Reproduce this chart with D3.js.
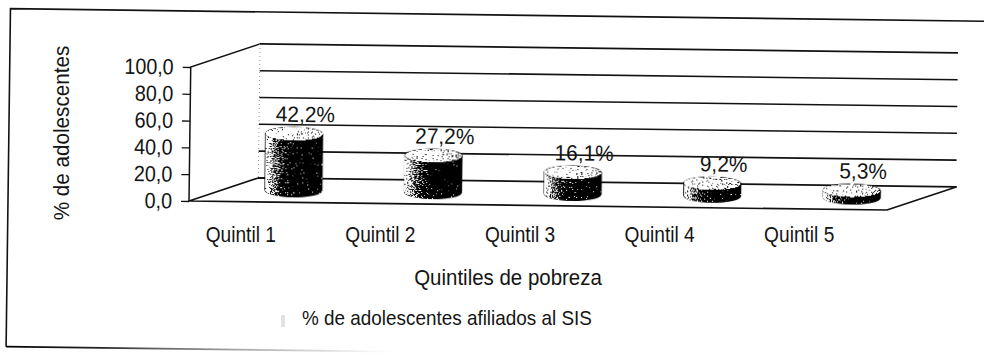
<!DOCTYPE html>
<html>
<head>
<meta charset="utf-8">
<script src="https://cdn.jsdelivr.net/npm/d3@7"></script>
<style>
  html, body { margin: 0; padding: 0; background: #fff; }
  svg { display: block; }
  text { font-family: "Liberation Sans", Arial, sans-serif; fill: #141414; }
</style>
</head>
<body>
<script>
// Afiliación al SIS por quintil de pobreza
const categories = ["Quintil 1", "Quintil 2", "Quintil 3", "Quintil 4", "Quintil 5"];
const values = [42.2, 27.2, 16.1, 9.2, 5.3];
const yTicks = [0, 20, 40, 60, 80, 100];
const seriesName = "% de adolescentes afiliados al SIS";
const xTitle = "Quintiles de pobreza";
const yTitle = "% de adolescentes";

const W = 984, H = 358;
const esLocale = d3.formatLocale({ decimal: ",", thousands: ".", grouping: [3], currency: ["", ""] });
const fmtTick = esLocale.format(".1f");
const fmtPct = v => esLocale.format(".1f")(v) + "%";

const svg = d3.select("body").append("svg")
  .attr("width", W).attr("height", H)
  .attr("viewBox", `0 0 ${W} ${H}`);

// front plane of the 3D box, depth offset of the back wall
const left = 189, right = 887;
const depth = { dx: 69, dy: -24 };
const x = d3.scaleBand().domain(categories).range([left, right]);
const y = d3.scaleLinear().domain([0, 100]).range([201, 67]);
const tilt = 0.74;

const defs = svg.append("defs");

// stippled shading for the cylinders
const grain = defs.append("filter").attr("id", "grain")
  .attr("color-interpolation-filters", "sRGB")
  .attr("x", "-5%").attr("y", "-5%").attr("width", "110%").attr("height", "110%");
grain.append("feTurbulence").attr("type", "fractalNoise").attr("baseFrequency", 0.8)
  .attr("numOctaves", 1).attr("seed", 7).attr("result", "noise");
grain.append("feColorMatrix").attr("in", "noise").attr("type", "matrix")
  .attr("values", "2.2 0 0 0 -0.6  2.2 0 0 0 -0.6  2.2 0 0 0 -0.6  0 0 0 0 1")
  .attr("result", "n2");
grain.append("feComposite").attr("in", "SourceGraphic").attr("in2", "n2")
  .attr("operator", "arithmetic").attr("k1", 0).attr("k2", 4.5).attr("k3", -4.5).attr("k4", 0.4)
  .attr("result", "d");
grain.append("feColorMatrix").attr("in", "d").attr("type", "matrix")
  .attr("values", "1 0 0 0 0  0 1 0 0 0  0 0 1 0 0  0 0 0 0 1").attr("result", "d2");
grain.append("feComposite").attr("in", "d2").attr("in2", "SourceAlpha").attr("operator", "in");

const bodyGrad = defs.append("linearGradient").attr("id", "body")
  .attr("x1", 0).attr("x2", 1).attr("y1", 0).attr("y2", 0);
[[0, "#dadada"], [0.12, "#909090"], [0.3, "#303030"], [0.5, "#000"], [1, "#000"]]
  .forEach(([o, c]) => bodyGrad.append("stop").attr("offset", o).attr("stop-color", c));

const topGrad = defs.append("linearGradient").attr("id", "cap")
  .attr("x1", 0).attr("x2", 1).attr("y1", 0).attr("y2", 0);
[[0, "#e2e2e2"], [0.5, "#c8c8c8"], [1, "#acacac"]]
  .forEach(([o, c]) => topGrad.append("stop").attr("offset", o).attr("stop-color", c));

const fade = defs.append("linearGradient").attr("id", "fade")
  .attr("gradientUnits", "userSpaceOnUse").attr("x1", 0).attr("x2", 400).attr("y1", 0).attr("y2", 0);
[[0, "#000", 1], [0.25, "#222", 1], [0.8, "#999", 0.4], [1, "#ccc", 0]]
  .forEach(([o, c, a]) => fade.append("stop").attr("offset", o).attr("stop-color", c).attr("stop-opacity", a));

// everything in the drawing area is slightly tilted
const plot = svg.append("g").attr("transform", `rotate(${tilt}, ${left}, ${y(0)})`);

// outer border
plot.append("path")
  .attr("d", `M1000,11 L8,11 L8,349`)
  .attr("fill", "none").attr("stroke", "#111").attr("stroke-width", 1.6);
plot.append("line")
  .attr("x1", 8).attr("x2", 1000).attr("y1", 349).attr("y2", 349)
  .attr("stroke", "url(#fade)").attr("stroke-width", 1.6);

const y0 = y(0), y100 = y(100);
const bx = left + depth.dx, by = depth.dy;

// floor
plot.append("path")
  .attr("d", `M${left},${y0} L${right},${y0} L${right + depth.dx},${y0 + by} L${bx},${y0 + by} Z`)
  .attr("fill", "#fff").attr("stroke", "#111").attr("stroke-width", 1.6).attr("stroke-linejoin", "round");

// side wall edges
plot.append("path")
  .attr("d", `M${left},${y0} L${left},${y100} L${bx},${y100 + by}`)
  .attr("fill", "none").attr("stroke", "#111").attr("stroke-width", 1.5);
plot.append("line")
  .attr("x1", bx).attr("x2", bx).attr("y1", y100 + by).attr("y2", y0 + by)
  .attr("stroke", "#999").attr("stroke-width", 1).attr("stroke-dasharray", "1 3");

// back wall gridlines
plot.selectAll("line.grid").data(yTicks.filter(t => t > 0)).join("line")
  .attr("class", "grid")
  .attr("x1", bx).attr("x2", right + depth.dx)
  .attr("y1", d => y(d) + by).attr("y2", d => y(d) + by)
  .attr("stroke", "#111").attr("stroke-width", 1.6);

// value axis on the front left edge
const yAxis = d3.axisLeft(y).tickValues(yTicks).tickFormat(fmtTick).tickSize(8).tickPadding(9);
const ya = plot.append("g").attr("transform", `translate(${left},0)`).call(yAxis);
ya.select(".domain").remove();
ya.selectAll(".tick line").attr("stroke", "#111").attr("stroke-width", 1.3);
ya.selectAll(".tick text")
  .attr("font-size", 22).attr("fill", "#222")
  .attr("font-family", "'Liberation Sans', Arial, sans-serif")
  .each(function () {
    const t = d3.select(this);
    const xx = +t.attr("x");
    t.attr("x", null).attr("transform", `translate(${xx},0) scale(0.9,1)`);
  });

// cylinders
const rx = 29, ry = 7;
const bars = plot.selectAll("g.bar").data(categories.map((c, i) => ({ c, v: values[i] }))).join("g")
  .attr("class", "bar");
bars.each(function (d) {
  const g = d3.select(this);
  const cx = x(d.c) + x.bandwidth() / 2 + depth.dx / 2;
  const base = y(0) + depth.dy / 2;
  const top = y(d.v) + depth.dy / 2;
  g.append("path")
    .attr("d", `M${cx - rx},${base} A${rx},${ry} 0 0 0 ${cx + rx},${base} L${cx + rx},${top} L${cx - rx},${top} Z`)
    .attr("fill", "url(#body)").attr("filter", "url(#grain)");
  g.append("ellipse")
    .attr("cx", cx).attr("cy", top).attr("rx", rx).attr("ry", ry)
    .attr("fill", "url(#cap)").attr("filter", "url(#grain)");
  g.append("text")
    .attr("transform", `translate(${cx + 11},${top - ry - 5}) scale(0.95,1)`)
    .attr("text-anchor", "middle").attr("font-size", 22)
    .text(fmtPct(d.v));
});

// category labels
svg.selectAll("text.cat").data(categories).join("text")
  .attr("class", "cat")
  .attr("transform", d => `translate(${x(d) + x.bandwidth() / 2 - 18},242) scale(0.87,1)`)
  .attr("text-anchor", "middle").attr("font-size", 22)
  .text(d => d);

// axis titles
svg.append("text")
  .attr("transform", `translate(508,285) scale(0.93,1)`)
  .attr("text-anchor", "middle").attr("font-size", 22)
  .text(xTitle);
svg.append("text")
  .attr("transform", `translate(69,133) rotate(-90) scale(0.94,1)`)
  .attr("text-anchor", "middle").attr("font-size", 22)
  .text(yTitle);

// legend
svg.append("rect").attr("x", 281).attr("y", 315).attr("width", 4).attr("height", 12)
  .attr("fill", "#e2e2e2");
svg.append("text")
  .attr("transform", `translate(302,325) scale(0.9,1)`)
  .attr("font-size", 21)
  .text(seriesName);
</script>
</body>
</html>
